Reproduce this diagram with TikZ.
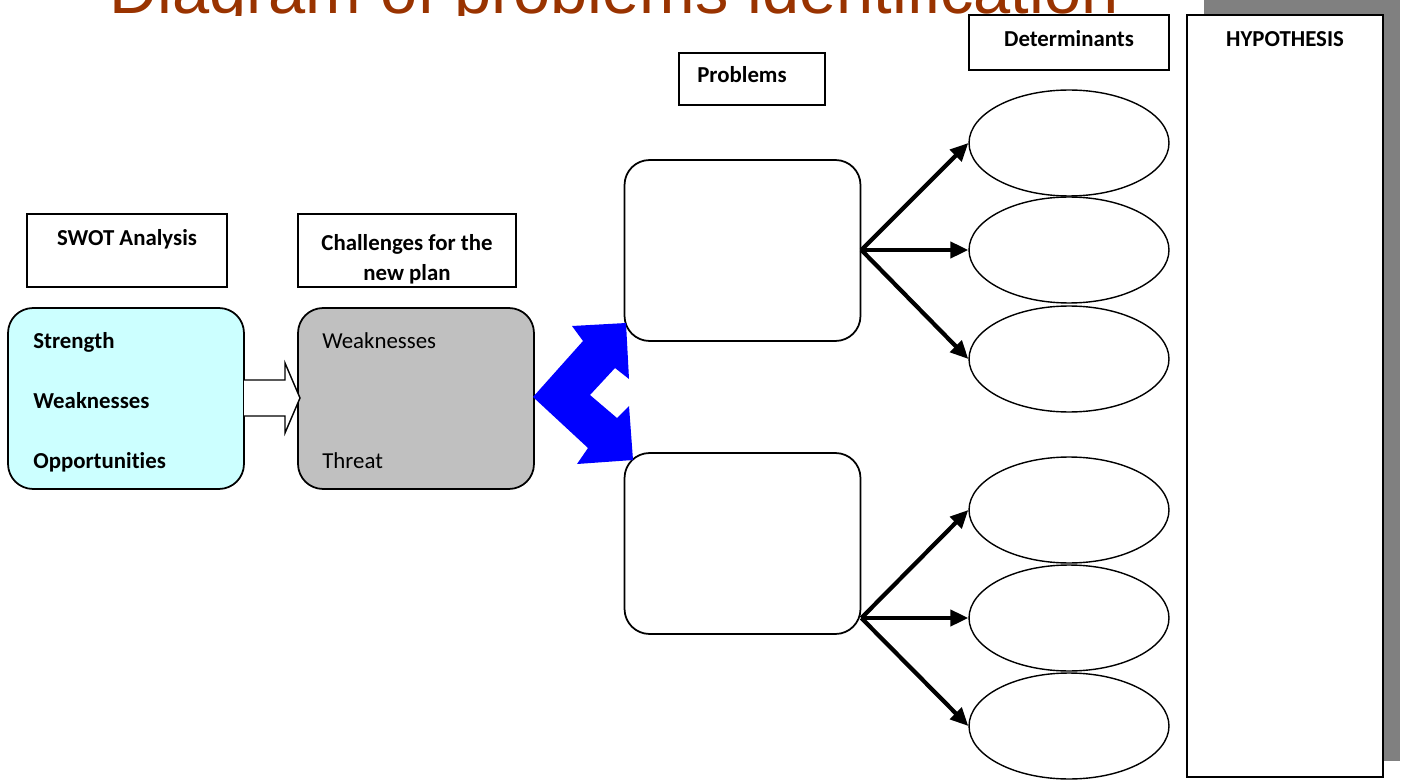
\documentclass[tikz,border=0pt]{standalone}
\usepackage{fontspec}
\setmainfont{Carlito}[Ligatures=NoCommon]
\newfontfamily\titlefont{Liberation Sans}
\usepackage{xcolor}
\usetikzlibrary{shapes.geometric, arrows.meta}
\definecolor{titlered}{RGB}{153,51,0}
\definecolor{swotcyan}{RGB}{204,255,255}
\definecolor{threatgray}{RGB}{192,192,192}
\definecolor{shadowgray}{RGB}{128,128,128}

\begin{document}
\begin{tikzpicture}[x=0.02cm,y=-0.02cm,
        hdbox/.style={draw,thick,rectangle,fill=white},
        hd/.style={font=\fontsize{13}{18}\selectfont\bfseries,anchor=base},
        txt/.style={font=\fontsize{13}{18}\selectfont,anchor=base west,inner sep=0pt},
        roundbox/.style={draw,line width=1pt,rounded corners=0.5cm,minimum width=4.72cm,minimum height=3.62cm},
        det/.style={draw,thick,ellipse,fill=white,minimum width=4cm,minimum height=2.12cm},
        link/.style={-{Triangle[length=0.36cm,width=0.32cm]},line width=2.4pt}]
        \useasboundingbox (0,0) rectangle (1402,780);

        % title, cut by the frame
        \begin{scope}
            \clip (0,0) rectangle (1402,15.5);
            \node[anchor=base,text=titlered,font=\titlefont\fontsize{38}{40}\selectfont,inner sep=0pt](title) at (614,14) {Diagram of problems identification};
        \end{scope}

        \fill[shadowgray] (1204,-2) rectangle (1400,761);
        \node[hdbox,minimum width=3.92cm,minimum height=15.24cm](hyp) at (1285,396) {};
        \node[hd](hyptxt) at (1285,47) {HYPOTHESIS};

        \node[hdbox,minimum width=4cm,minimum height=1.1cm](detbox) at (1069,42.5) {};
        \node[hd](dettxt) at (1069,47) {Determinants};

        \node[hdbox,minimum width=2.92cm,minimum height=1.04cm](probbox) at (752,79) {};
        \node[hd](probtxt) at (742,83) {Problems};

        \node[hdbox,minimum width=4cm,minimum height=1.46cm](swotbox) at (127,250.5) {};
        \node[hd](swottxt) at (127,246) {SWOT Analysis};

        \node[hdbox,minimum width=4.36cm,minimum height=1.46cm](chalbox) at (407,250.5) {};
        \begin{scope}
            \clip (299,215) rectangle (515,286);
            \node[hd,anchor=center,align=center,font=\fontsize{13}{17}\selectfont\bfseries](chaltxt) at (407,259) {Challenges for the\\new plan};
        \end{scope}

        \node[roundbox,fill=swotcyan](swot) at (126,398.5) {};
        \node[hd,anchor=base west,inner sep=0pt](strength) at (33,348) {Strength};
        \node[hd,anchor=base west,inner sep=0pt](weak) at (33,408) {Weaknesses};
        \node[hd,anchor=base west,inner sep=0pt](opport) at (33,468) {Opportunities};

        \node[roundbox,fill=threatgray](chal) at (416,398.5) {};
        \node[txt](chalweak) at (322,348) {Weaknesses};
        \node[txt](chalthreat) at (322,468) {Threat};

        \draw[thick,fill=white] (244,380) -- (285,380) -- (285,363) -- (300,398) -- (285,433) -- (285,416) -- (244,416);

        \node[roundbox,fill=white](prob1) at (742.5,250.5) {};
        \node[roundbox,fill=white](prob2) at (742.5,543.5) {};

        \fill[blue] (533,397) -- (583,341) -- (572,326) -- (626,323) -- (629,379) -- (615,368) -- (590,395)
            -- (617,418) -- (629,406) -- (633,460) -- (577,464) -- (588,448) -- cycle;

        \node[det](det1) at (1069,143) {};
        \node[det](det2) at (1069,250) {};
        \node[det](det3) at (1069,359) {};
        \node[det](det4) at (1069,510) {};
        \node[det](det5) at (1069,618) {};
        \node[det](det6) at (1069,726) {};

        \path[link](prob1.east |- det2.west) edge (det1.west)
                                             edge (det2.west)
                                             edge (det3.west)
                   (prob2.east |- det5.west) edge (det4.west)
                                             edge (det5.west)
                                             edge (det6.west);
\end{tikzpicture}
\end{document}
